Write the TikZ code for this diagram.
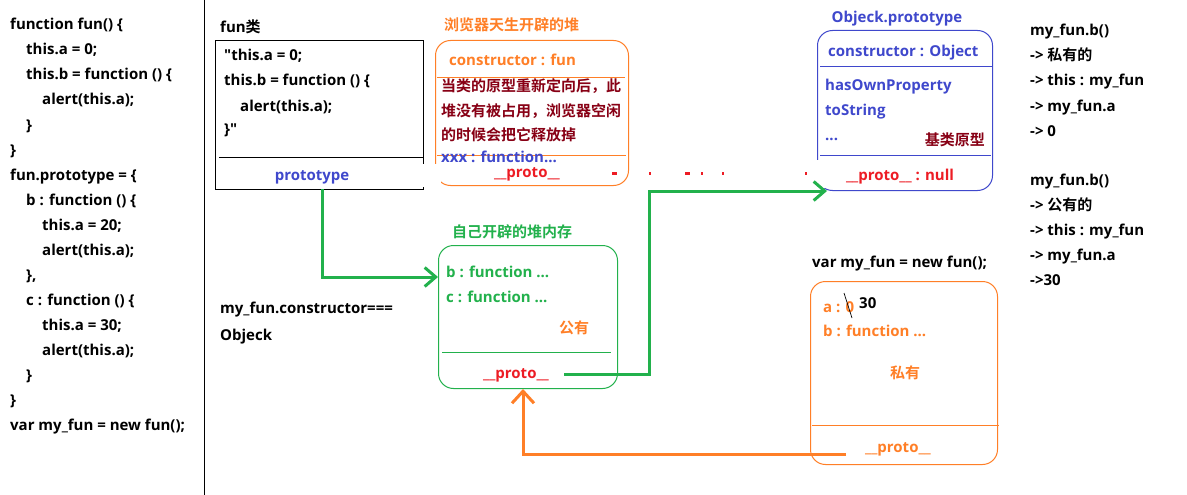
\documentclass[tikz,border=0pt]{standalone}
\usepackage{fontspec}
\usetikzlibrary{arrows.meta}
\newfontfamily\lat{Open Sans}[BoldFont={* Bold}]
\newfontfamily\cjk{Noto Sans CJK SC}[BoldFont={Noto Sans CJK SC Bold}]
\newcommand\zh[1]{{\cjk\bfseries\fontsize{15}{17}\selectfont #1}}
\definecolor{porange}{RGB}{255,127,39}
\definecolor{pgreen}{RGB}{34,177,76}
\definecolor{pblue}{RGB}{63,72,204}
\definecolor{pdred}{RGB}{136,0,21}
\definecolor{pred}{RGB}{237,28,36}
\tikzset{
  txt/.style={anchor=base west, inner sep=0pt, font=\lat\bfseries\fontsize{15}{17}\selectfont},
  ctxt/.style={txt, anchor=base},
  rtxt/.style={txt, anchor=base east},
  boxshape/.style={draw, line width=1pt, inner sep=0pt, anchor=north west},
  rbox/.style={boxshape, rounded corners=15pt},
  garrow/.style={pgreen, line width=3pt, -{Straight Barb[length=11pt,width=19pt]}},
  oarrow/.style={porange, line width=3pt, -{Straight Barb[length=12pt,width=22pt]}},
}
\begin{document}
\begin{tikzpicture}[x=1pt,y=-1pt]
\useasboundingbox[fill=white] (0,0) rectangle (1187,495);
% left code
\node[txt] (c1) at (10,30) {function fun() \{};
\node[txt] (c2) at (26,55) {this.a = 0;};
\node[txt] (c3) at (26,80) {this.b = function () \{};
\node[txt] (c4) at (42,105) {alert(this.a);};
\node[txt] (c5) at (26,130) {\}};
\node[txt] (c6) at (10,155) {\}};
\node[txt] (c7) at (10,180) {fun.prototype = \{};
\node[txt] (c8) at (26,205) {b : function () \{};
\node[txt] (c9) at (42,230) {this.a = 20;};
\node[txt] (c10) at (42,255) {alert(this.a);};
\node[txt] (c11) at (26,280) {\},};
\node[txt] (c12) at (26,305) {c : function () \{};
\node[txt] (c13) at (42,330) {this.a = 30;};
\node[txt] (c14) at (42,355) {alert(this.a);};
\node[txt] (c15) at (26,380) {\}};
\node[txt] (c16) at (10,405) {\}};
\node[txt] (c17) at (10,430) {var my\_fun = new fun();};
\draw[line width=1pt] (204,0) -- (204,495);
% fun class box
\node[txt] (funt) at (220,33) {fun\zh{类}};
\node[boxshape, minimum width=208pt, minimum height=149pt] (funbox) at (215,40) {};
\draw[line width=1pt] (219,157) -- (funbox.east |- 0,157);
\node[txt] (f1) at (224,61) {"this.a = 0;};
\node[txt] (f2) at (224,86) {this.b = function () \{};
\node[txt] (f3) at (240,111) {alert(this.a);};
\node[txt] (f4) at (224,135) {\}"};
\node[ctxt, text=pblue] (funproto) at (312,180) {prototype};
% browser heap
\node[txt, text=porange] (heapt) at (444,31) {\zh{浏览器天生开辟的堆}};
\node[rbox, draw=porange, minimum width=193pt, minimum height=145pt] (heap) at (435,40) {};
\draw[porange, line width=1pt] (437,78) -- (625,78);
\draw[porange, line width=1pt] (437,155) -- (626,155);
\node[txt, text=porange] (h1) at (449,66) {constructor : fun};
\node[txt, text=pdred] (h2) at (441,92) {\zh{当类的原型重新定向后，此}};
\node[txt, text=pdred] (h3) at (441,117) {\zh{堆没有被占用，浏览器空闲}};
\node[txt, text=pdred] (h4) at (441,140) {\zh{的时候会把它释放掉}};
\node[txt, text=pblue] (h5) at (441,162) {xxx : function...};
\node[ctxt, text=pred] (heapproto) at (527,177) {\_\_proto\_\_};
\fill[white] (412,164) rectangle (441,187);
% red leftover marks
\fill[pred] (612,172) rectangle (617,175);
\fill[pred] (649,172) rectangle (651,175);
\fill[pred] (685,172) rectangle (690,175);
\fill[pred] (701,172) rectangle (703,175);
\fill[pred] (722,172) rectangle (724,175);
\fill[pred] (805,172) rectangle (807,175);
% Object prototype
\node[ctxt, text=pblue] (objt) at (897,23) {Objeck.prototype};
\node[rbox, draw=pblue, minimum width=175pt, minimum height=160pt] (obj) at (817,30) {};
\draw[pblue, line width=1pt] (820,67) -- (992,67);
\draw[pblue, line width=1pt] (820,155) -- (991,155);
\node[txt, text=pblue] (o1) at (828,57) {constructor : Object};
\node[txt, text=pblue] (o2) at (825,91) {hasOwnProperty};
\node[txt, text=pblue] (o3) at (825,115) {toString};
\node[txt, text=pblue] (o4) at (825,140) {...};
\node[rtxt, text=pdred] (o5) at (985,146) {\zh{基类原型}};
\node[ctxt, text=pred] (objproto) at (900,180) {\_\_proto\_\_ : null};
\fill[white] (812,160) rectangle (826,188);
% own heap (green)
\node[txt, text=pgreen] (gt) at (452,237) {\zh{自己开辟的堆内存}};
\node[rbox, draw=pgreen, minimum width=179pt, minimum height=143pt] (gbox) at (438,245) {};
\draw[pgreen, line width=1pt] (442,352) -- (611,352);
\node[txt, text=pgreen] (gb) at (446,277) {b : function ...};
\node[txt, text=pgreen] (gc) at (446,302) {c : function ...};
\node[txt, text=porange] (gpub) at (559,333) {\zh{公有}};
\node[ctxt, text=pred] (gproto) at (516,378) {\_\_proto\_\_};
% constructor text
\node[txt] (k1) at (220,313) {my\_fun.constructor===};
\node[txt] (k2) at (220,340) {Objeck};
% instance
\node[txt] (vt) at (812,267) {var my\_fun = new fun();};
\node[rbox, draw=porange, minimum width=187pt, minimum height=183pt] (inst) at (810,281) {};
\draw[porange, line width=1pt] (812,425) -- (999,425);
\node[txt, text=porange] (ia) at (823,312) {a : 0};
\node[txt] (i30) at (859,308) {30};
\draw[line width=0.7pt] (844,293) -- (852,318);
\node[txt, text=porange] (ib) at (823,336) {b : function ...};
\node[ctxt, text=porange] (ipriv) at (905,378) {\zh{私有}};
\node[ctxt, text=porange] (iproto) at (898,452) {\_\_proto\_\_};
% right notes
\node[txt] (r1) at (1030,36) {my\_fun.b()};
\node[txt] (r2) at (1030,61) {-> \zh{私有的}};
\node[txt] (r3) at (1030,86) {-> this : my\_fun};
\node[txt] (r4) at (1030,111) {-> my\_fun.a};
\node[txt] (r5) at (1030,136) {-> 0};
\node[txt] (r6) at (1030,185) {my\_fun.b()};
\node[txt] (r7) at (1030,210) {-> \zh{公有的}};
\node[txt] (r8) at (1030,235) {-> this : my\_fun};
\node[txt] (r9) at (1030,260) {-> my\_fun.a};
\node[txt] (r10) at (1030,285) {->30};
% connectors
\coordinate (fstart) at (322,189);
\coordinate (gstart) at (564,374);
\coordinate (ostart) at (846,454);
\draw[garrow] (fstart) |- (gbox.west |- gb.base);
\draw[garrow] (gstart) -- (649,374) |- (obj.south west -| 827,0);
\draw[oarrow] (ostart) -| (gbox.south -| 523,0);
\end{tikzpicture}
\end{document}
